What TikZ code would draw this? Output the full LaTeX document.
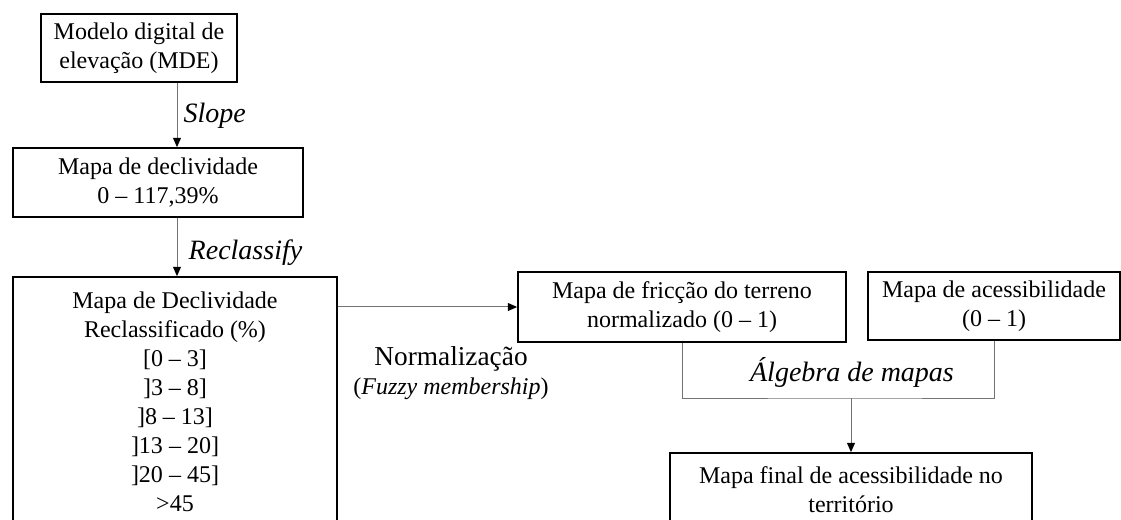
\documentclass[tikz,border=0pt]{standalone}
\usepackage{fontspec}
\setmainfont{Liberation Serif}
\usetikzlibrary{arrows.meta,calc,positioning}
\definecolor{linegray}{gray}{0.45}

\tikzset{
  box/.style={draw=black, line width=1.3pt, align=center, inner sep=0pt,
    font=\fontsize{18}{21.75}\selectfont},
  conn/.style={draw=linegray, line width=0.75pt},
  arr/.style={conn, -{Triangle[length=7pt,width=6pt,color=black]}},
  lbl/.style={font=\fontsize{21}{21.75}\selectfont\itshape, align=center}
}

\begin{document}
\begin{tikzpicture}[x=0.75pt,y=-0.75pt]
        \useasboundingbox (0,0) rectangle (1121,520);
        \clip (0,0) rectangle (1121,520);
        \coordinate (axis) at (177,0);
        \coordinate (join) at (851,398);
        %Boxes
        \node[box, minimum width=196*0.75pt, minimum height=68*0.75pt] (mde) at (139,48)
          {Modelo digital de\\elevação (MDE)};
        \node[box, minimum width=290*0.75pt, minimum height=69*0.75pt] (decl) at (158,182.5)
          {Mapa de declividade\\0 – 117,39\%};
        \node[box, minimum width=324*0.75pt, minimum height=250*0.75pt] (reclass) at (175,402)
          {Mapa de Declividade\\Reclassificado (\%)\\{}[0 – 3]\\{}]3 – 8]\\{}]8 – 13]\\{}]13 – 20]\\{}]20 – 45]\\>45};
        \node[box, minimum width=328*0.75pt, minimum height=70*0.75pt] (fric) at (682,307)
          {Mapa de fricção do terreno\\normalizado (0 – 1)};
        \node[box, minimum width=252*0.75pt, minimum height=68*0.75pt] (acess) at (994,306)
          {Mapa de acessibilidade\\(0 – 1)};
        \node[box, minimum width=362*0.75pt, minimum height=74*0.75pt] (final) at (851,490)
          {Mapa final de acessibilidade no\\território};
        %Connectors
        \draw[arr] (mde.south -| axis) -- (decl.north -| axis);
        \draw[arr] (decl.south -| axis) -- (reclass.north -| axis);
        \draw[arr] (reclass.east |- fric.west) -- (fric.west);
        \draw[conn] (fric.south) |- (join) -| (acess.south);
        \draw[arr] (join) -- (final.north);
        %Labels
        \node[lbl, anchor=west] (slope) at (179,116) {Slope};
        \node[lbl, anchor=west] (reclassify) at (184,253) {Reclassify};
        \node[lbl, font=\fontsize{18}{21.75}\selectfont] (norm) at (451,373)
          {{\fontsize{20.5}{21.75}\selectfont Normalização}\\(\textit{Fuzzy membership})};
        \node[lbl] (algebra) at (852,372) {Álgebra de mapas};
\end{tikzpicture}
\end{document}
